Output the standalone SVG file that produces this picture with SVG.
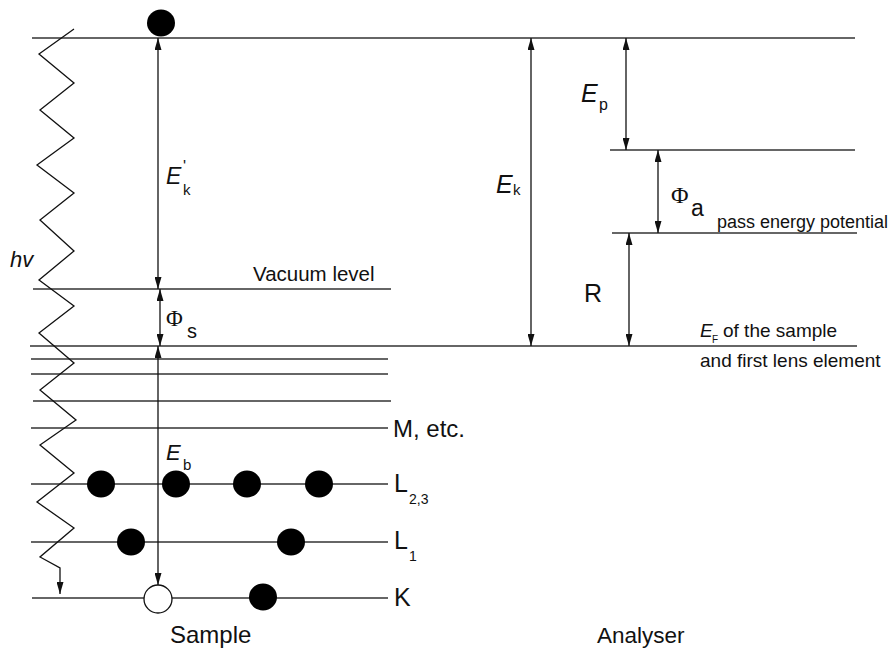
<svg xmlns="http://www.w3.org/2000/svg" width="889" height="648" viewBox="0 0 889 648">
<style>
.lv{stroke:#333;stroke-width:1.3;fill:none}
.ar{stroke:#111;stroke-width:1.3;fill:none;marker-start:url(#ah);marker-end:url(#ah)}
.e{fill:#000}
.t{font-family:"Liberation Sans",Arial,sans-serif;fill:#111}
.i{font-style:italic}
.ph{font-family:"Liberation Serif","Times New Roman",serif;fill:#111}
</style>
<defs>
<marker id="ah" viewBox="0 0 12 7" markerWidth="12" markerHeight="7" refX="12" refY="3.5" orient="auto-start-reverse" markerUnits="userSpaceOnUse">
<path d="M0,0 L12,3.5 L0,7 Z" fill="#111"/>
</marker>
</defs>
<rect width="889" height="648" fill="#fff"/>

<g id="levels">
<line class="lv" x1="32" y1="38" x2="855" y2="38"/>
<line class="lv" x1="33" y1="289" x2="391" y2="289"/>
<line class="lv" x1="30" y1="346" x2="857" y2="346"/>
<line class="lv" x1="31" y1="359" x2="388" y2="359"/>
<line class="lv" x1="31" y1="374" x2="388" y2="374"/>
<line class="lv" x1="33" y1="401" x2="391" y2="401"/>
<line class="lv" x1="31" y1="428" x2="388" y2="428"/>
<line class="lv" x1="31" y1="484" x2="388" y2="484"/>
<line class="lv" x1="31" y1="542" x2="388" y2="542"/>
<line class="lv" x1="32" y1="598" x2="388" y2="598"/>
<line class="lv" x1="610" y1="150" x2="855" y2="150"/>
<line class="lv" x1="612" y1="233" x2="857" y2="233"/>
</g>

<g id="photon">
<polyline fill="none" stroke="#111" stroke-width="1.3" marker-end="url(#ah)" points="74,29 39,54 74,83 40,110 74,138 37,165 74,193 40,220 74,251 39,280 74,306 39,333 74,363 40,390 76,420 40,445 74,473 37,502 74,528 40,557 60,568 60,594"/>
</g>

<g id="connectors">
<line class="ar" x1="158" y1="38" x2="158" y2="289"/>
<line class="ar" x1="160" y1="289" x2="160" y2="346"/>
<line class="ar" x1="158" y1="346" x2="158" y2="585"/>
<line class="ar" x1="531" y1="38" x2="531" y2="346"/>
<line class="ar" x1="626" y1="38" x2="626" y2="150"/>
<line class="ar" x1="658" y1="150" x2="658" y2="233"/>
<line class="ar" x1="629" y1="233" x2="629" y2="346"/>
</g>

<g id="electrons">
<ellipse class="e" cx="161" cy="23" rx="14" ry="13.5"/>
<ellipse class="e" cx="101" cy="484" rx="14" ry="13.5"/>
<ellipse class="e" cx="176" cy="484" rx="14" ry="13.5"/>
<ellipse class="e" cx="247" cy="484" rx="14" ry="13.5"/>
<ellipse class="e" cx="319" cy="484" rx="14" ry="13.5"/>
<ellipse class="e" cx="131" cy="542" rx="14" ry="13.5"/>
<ellipse class="e" cx="291" cy="542" rx="14" ry="13.5"/>
<ellipse class="e" cx="263" cy="597" rx="14" ry="13.5"/>
<ellipse cx="158" cy="599" rx="14" ry="14" fill="#fff" stroke="#111" stroke-width="1.3"/>
</g>

<g id="labels">
<text class="t i" x="10" y="267" font-size="22">hv</text>
<text class="t" x="253" y="281" font-size="20.5">Vacuum level</text>
<text class="t i" x="166" y="184" font-size="23">E</text>
<text class="t" x="183" y="172" font-size="16">'</text>
<text class="t" x="183" y="195" font-size="15">k</text>
<text class="ph" x="166" y="326" font-size="23">Φ</text>
<text class="t" x="187" y="338" font-size="20">s</text>
<text class="t i" x="166" y="460" font-size="22">E</text>
<text class="t" x="183" y="470" font-size="15">b</text>
<text class="t" x="393" y="437" font-size="24">M, etc.</text>
<text class="t" x="394" y="492" font-size="25">L</text>
<text class="t" x="409" y="504" font-size="14">2,3</text>
<text class="t" x="394" y="549" font-size="25">L</text>
<text class="t" x="409" y="561" font-size="14">1</text>
<text class="t" x="394" y="606" font-size="25">K</text>
<text class="t" x="170" y="643" font-size="24">Sample</text>
<text class="t" x="597" y="643" font-size="22.5">Analyser</text>
<text class="t i" x="496" y="193" font-size="25">E</text>
<text class="t" x="513" y="195" font-size="15">k</text>
<text class="t i" x="581" y="102" font-size="25">E</text>
<text class="t" x="599" y="110" font-size="16">p</text>
<text class="ph" x="671" y="203" font-size="24">Φ</text>
<text class="t" x="691" y="216" font-size="23">a</text>
<text class="t" x="717" y="228" font-size="18">pass energy potential</text>
<text class="t" x="584" y="302" font-size="25">R</text>
<text class="t i" x="700" y="337" font-size="19">E</text>
<text class="t" x="712" y="343" font-size="10">F</text>
<text class="t" x="723" y="337" font-size="19">of the sample</text>
<text class="t" x="700" y="367" font-size="19">and first lens element</text>
</g>
</svg>
